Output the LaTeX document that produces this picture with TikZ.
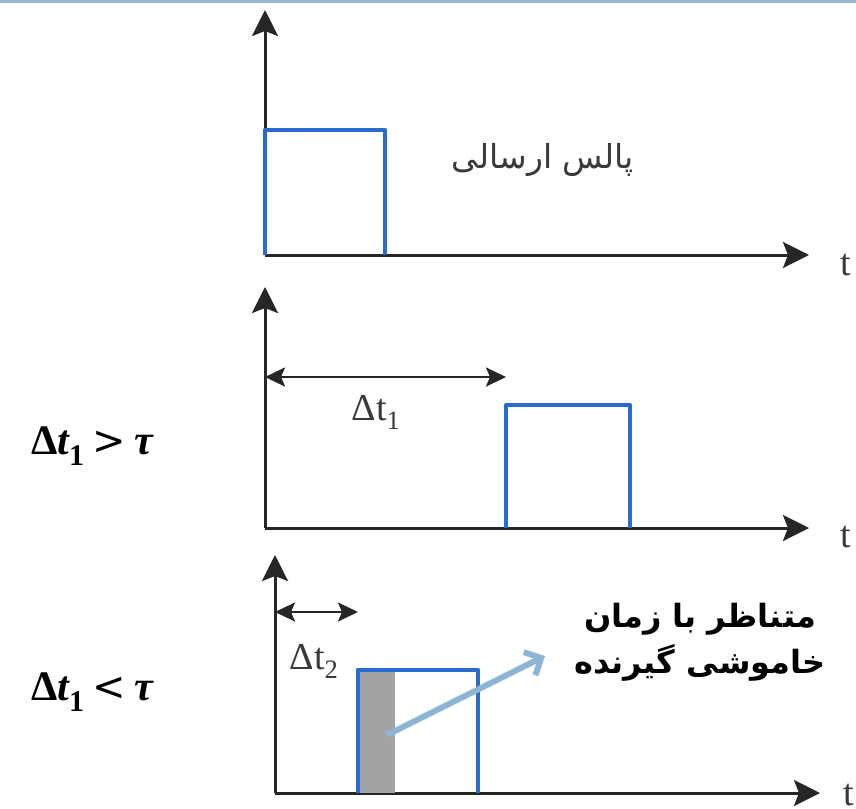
\documentclass[tikz,border=0pt]{standalone}
\usepackage{fontspec}
\usepackage{graphicx}
\usetikzlibrary{arrows.meta}
\TeXXeTstate=1
\newfontfamily\arabicfont[Script=Arabic]{DejaVu Sans}
\newfontfamily\serifT{Liberation Serif}
\newfontfamily\relfont{DejaVu Sans}
\definecolor{pulseblue}{HTML}{2A6BD0}
\definecolor{barblue}{HTML}{97B7D3}
\definecolor{notearrow}{HTML}{8FB5D5}
\definecolor{shadegray}{HTML}{A3A3A3}
\definecolor{labgray}{HTML}{3A3A3A}
\tikzset{
  axis/.style={line width=3pt, black!85, -{Stealth[length=26pt,width=26pt,inset=5pt]}},
  span/.style={line width=2.6pt, black!85, {Stealth[length=20pt,width=19pt,inset=4pt]}-{Stealth[length=20pt,width=19pt,inset=4pt]}},
  pulse/.style={line width=4.5pt, pulseblue, line join=round},
  tlab/.style={font=\serifT\fontsize{38}{40}\selectfont, text=labgray, inner sep=0pt},
  dlab/.style={font=\serifT\fontsize{38}{40}\selectfont, text=labgray, inner sep=0pt},
  cond/.style={font=\serifT\fontsize{42}{44}\selectfont, inner sep=0pt},
  fa/.style={font=\arabicfont\fontsize{33}{36}\selectfont, text=labgray, inner sep=0pt},
  fab/.style={font=\arabicfont\bfseries\fontsize{32}{46}\selectfont, align=center, inner sep=0pt},
}
\newcommand{\condlab}[1]{{\bfseries Δ}{\bfseries\itshape t}\raisebox{-0.25em}{\fontsize{30}{32}\selectfont\bfseries 1}\hspace{0.2em}{\relfont\fontsize{40}{42}\selectfont #1}\hspace{0.2em}{\bfseries\itshape τ}}
\begin{document}
\begin{tikzpicture}[x=1pt,y=-1pt]
\useasboundingbox (0,0) rectangle (856,808);
\fill[white] (0,0) rectangle (856,808);
\fill[barblue] (0,0) rectangle (856,3.5);

% ---------- panel 1 ----------
\coordinate (o1) at (265,255);
\coordinate (y1) at (265,10);
\coordinate (x1) at (809,255);
\draw[axis] (o1) -- (y1);
\draw[axis] (o1) -- (x1);
\node[tlab] (t1) at (846,265) {t};
\coordinate (p1a) at (265,255);
\coordinate (p1b) at (265,130);
\coordinate (p1c) at (385,130);
\coordinate (p1d) at (385,255);
\draw[pulse] (p1a) -- (p1b) -- (p1c) -- (p1d);
\node[fa] (lab1) at (543,160) {\beginR پالس ارسالی\endR};

% ---------- panel 2 ----------
\coordinate (o2) at (265,528);
\coordinate (y2) at (265,287);
\coordinate (x2) at (809,528);
\draw[axis] (o2) -- (y2);
\draw[axis] (o2) -- (x2);
\node[tlab] (t2) at (846,537) {t};
\coordinate (d1a) at (265,377);
\coordinate (d1b) at (506,377);
\draw[span] (d1a) -- (d1b);
\node[dlab] (dt1) at (376,412) {Δt\textsubscript{1}};
\coordinate (p2a) at (506,528);
\coordinate (p2b) at (506,405);
\coordinate (p2c) at (630,405);
\coordinate (p2d) at (630,528);
\draw[pulse] (p2a) -- (p2b) -- (p2c) -- (p2d);
\node[cond] (c1) at (92,446) {\condlab{>}};

% ---------- panel 3 ----------
\coordinate (o3) at (275,793);
\coordinate (y3) at (275,555);
\coordinate (x3) at (820,793);
\draw[axis] (o3) -- (y3);
\draw[axis] (o3) -- (x3);
\node[tlab] (t3) at (849,795) {t};
\coordinate (d2a) at (275,612);
\coordinate (d2b) at (358,612);
\draw[span] (d2a) -- (d2b);
\node[dlab] (dt2) at (314,661) {Δt\textsubscript{2}};
\fill[shadegray] (358,670) rectangle (395,793);
\coordinate (p3a) at (358,793);
\coordinate (p3b) at (358,670);
\coordinate (p3c) at (478,670);
\coordinate (p3d) at (478,793);
\draw[pulse] (p3a) -- (p3b) -- (p3c) -- (p3d);
\node[cond] (c2) at (92,692) {\condlab{<}};
\node[fab] (note) at (700,642) {\beginR متناظر با زمان\endR\\ \beginR خاموشی گیرنده\endR};
\coordinate (na) at (387,735);
\coordinate (nb) at (545,656);
\draw[line width=6pt, notearrow, -{Straight Barb[length=13pt,width=26pt,line width=6pt]}] (na) -- (nb);
\end{tikzpicture}
\end{document}
